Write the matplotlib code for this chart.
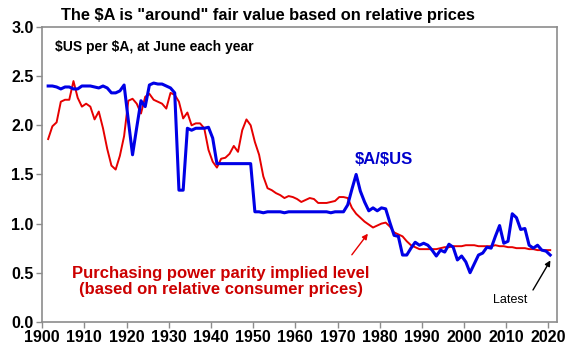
import numpy as np
import matplotlib.pyplot as plt

plt.rcParams['font.family'] = ['Liberation Sans', 'DejaVu Sans']
plt.rcParams['text.parse_math'] = False

# $US per $A at June each year
years = list(range(1901, 2021))

aud_usd = [2.40, 2.40, 2.39, 2.37, 2.39, 2.39, 2.37, 2.37, 2.40, 2.40,   # 1901-1910
           2.40, 2.39, 2.38, 2.40, 2.38, 2.33, 2.33, 2.35, 2.41, 2.05,   # 1911-1920
           1.70, 1.98, 2.25, 2.19, 2.41, 2.43, 2.42, 2.42, 2.40, 2.38,   # 1921-1930
           2.33, 1.34, 1.34, 1.97, 1.95, 1.97, 1.97, 1.97, 1.98, 1.87,   # 1931-1940
           1.61, 1.61, 1.61, 1.61, 1.61, 1.61, 1.61, 1.61, 1.61, 1.12,   # 1941-1950
           1.12, 1.11, 1.12, 1.12, 1.12, 1.12, 1.11, 1.12, 1.12, 1.12,   # 1951-1960
           1.12, 1.12, 1.12, 1.12, 1.12, 1.12, 1.12, 1.11, 1.12, 1.12,   # 1961-1970
           1.12, 1.19, 1.35, 1.50, 1.33, 1.22, 1.13, 1.16, 1.13, 1.16,   # 1971-1980
           1.15, 1.01, 0.88, 0.87, 0.68, 0.68, 0.75, 0.81, 0.78, 0.80,   # 1981-1990
           0.78, 0.73, 0.67, 0.73, 0.71, 0.79, 0.76, 0.63, 0.67, 0.61,   # 1991-2000
           0.50, 0.59, 0.68, 0.70, 0.76, 0.75, 0.87, 0.98, 0.80, 0.82,   # 2001-2010
           1.10, 1.06, 0.94, 0.95, 0.78, 0.75, 0.78, 0.73, 0.72, 0.68]   # 2011-2020

ppp = [1.86, 1.99, 2.03, 2.24, 2.26, 2.26, 2.45, 2.28, 2.19, 2.22,   # 1901-1910
       2.19, 2.06, 2.14, 1.97, 1.76, 1.59, 1.55, 1.69, 1.89, 2.25,   # 1911-1920
       2.27, 2.22, 2.12, 2.29, 2.32, 2.26, 2.24, 2.22, 2.17, 2.33,   # 1921-1930
       2.31, 2.24, 2.07, 2.13, 2.00, 2.02, 2.02, 1.97, 1.75, 1.63,   # 1931-1940
       1.57, 1.66, 1.67, 1.71, 1.79, 1.73, 1.95, 2.06, 2.00, 1.83,   # 1941-1950
       1.70, 1.48, 1.36, 1.34, 1.31, 1.29, 1.26, 1.28, 1.27, 1.25,   # 1951-1960
       1.22, 1.24, 1.26, 1.25, 1.21, 1.21, 1.21, 1.22, 1.23, 1.27,   # 1961-1970
       1.27, 1.26, 1.16, 1.10, 1.06, 1.02, 0.99, 0.96, 0.98, 1.00,   # 1971-1980
       1.01, 0.97, 0.91, 0.89, 0.87, 0.82, 0.78, 0.76, 0.74, 0.74,   # 1981-1990
       0.74, 0.74, 0.74, 0.75, 0.76, 0.76, 0.77, 0.77, 0.77, 0.78,   # 1991-2000
       0.78, 0.78, 0.77, 0.77, 0.77, 0.77, 0.78, 0.77, 0.77, 0.76,   # 2001-2010
       0.76, 0.75, 0.75, 0.75, 0.74, 0.74, 0.73, 0.73, 0.73, 0.73]   # 2011-2020

x_ticks = list(range(1900, 2021, 10))
y_ticks = [0.0, 0.5, 1.0, 1.5, 2.0, 2.5, 3.0]

# June of each year
x = np.array(years) + 5 / 12

fig = plt.figure(figsize=(5.7, 3.51), dpi=100)
ax = fig.add_axes([0.074, 0.083, 0.903, 0.840])

ax.plot(x, ppp, color='#e60000', lw=1.4, zorder=2)
ax.plot(x, aud_usd, color='#0000e6', lw=2.2, zorder=3)

ax.set_xlim(1900, 2022)
ax.set_ylim(0, 3)
ax.set_xticks(x_ticks)
ax.set_yticks(y_ticks)
ax.set_yticklabels([f'{v:.1f}' for v in y_ticks])
for s in ax.spines.values():
    s.set_color('#8c8c8c')
    s.set_linewidth(1.2)
ax.tick_params(direction='out', length=4, color='#8c8c8c', width=1.0,
               labelsize=11.5, pad=2)
for lab in ax.get_xticklabels() + ax.get_yticklabels():
    lab.set_fontweight('bold')

fig.text(0.47, 0.957, 'The $A is "around" fair value based on relative prices',
         ha='center', va='center', fontsize=11.8, fontweight='bold')
ax.text(1903.1, 2.80, '$US per $A, at June each year', ha='left', va='center',
        fontsize=10, fontweight='bold')
ax.text(1974.2, 1.65, '$A/$US', ha='left', va='center', fontsize=12,
        fontweight='bold', color='#0000cc')
ax.text(1942.4, 0.41, 'Purchasing power parity implied level\n(based on relative consumer prices)',
        ha='center', va='center', fontsize=12, fontweight='bold', color='#cc0000',
        linespacing=1.1)
ax.annotate('', xy=(1977.6, 0.92), xytext=(1973.0, 0.66),
            arrowprops=dict(arrowstyle='-|>', color='#e60000', lw=1.0, mutation_scale=8))
ax.text(2010.9, 0.22, 'Latest', ha='center', va='center', fontsize=9)
ax.annotate('', xy=(2020.8, 0.65), xytext=(2016.0, 0.30),
            arrowprops=dict(arrowstyle='-|>', color='black', lw=1.0, mutation_scale=8))

fig.savefig('out.png', dpi=100)
